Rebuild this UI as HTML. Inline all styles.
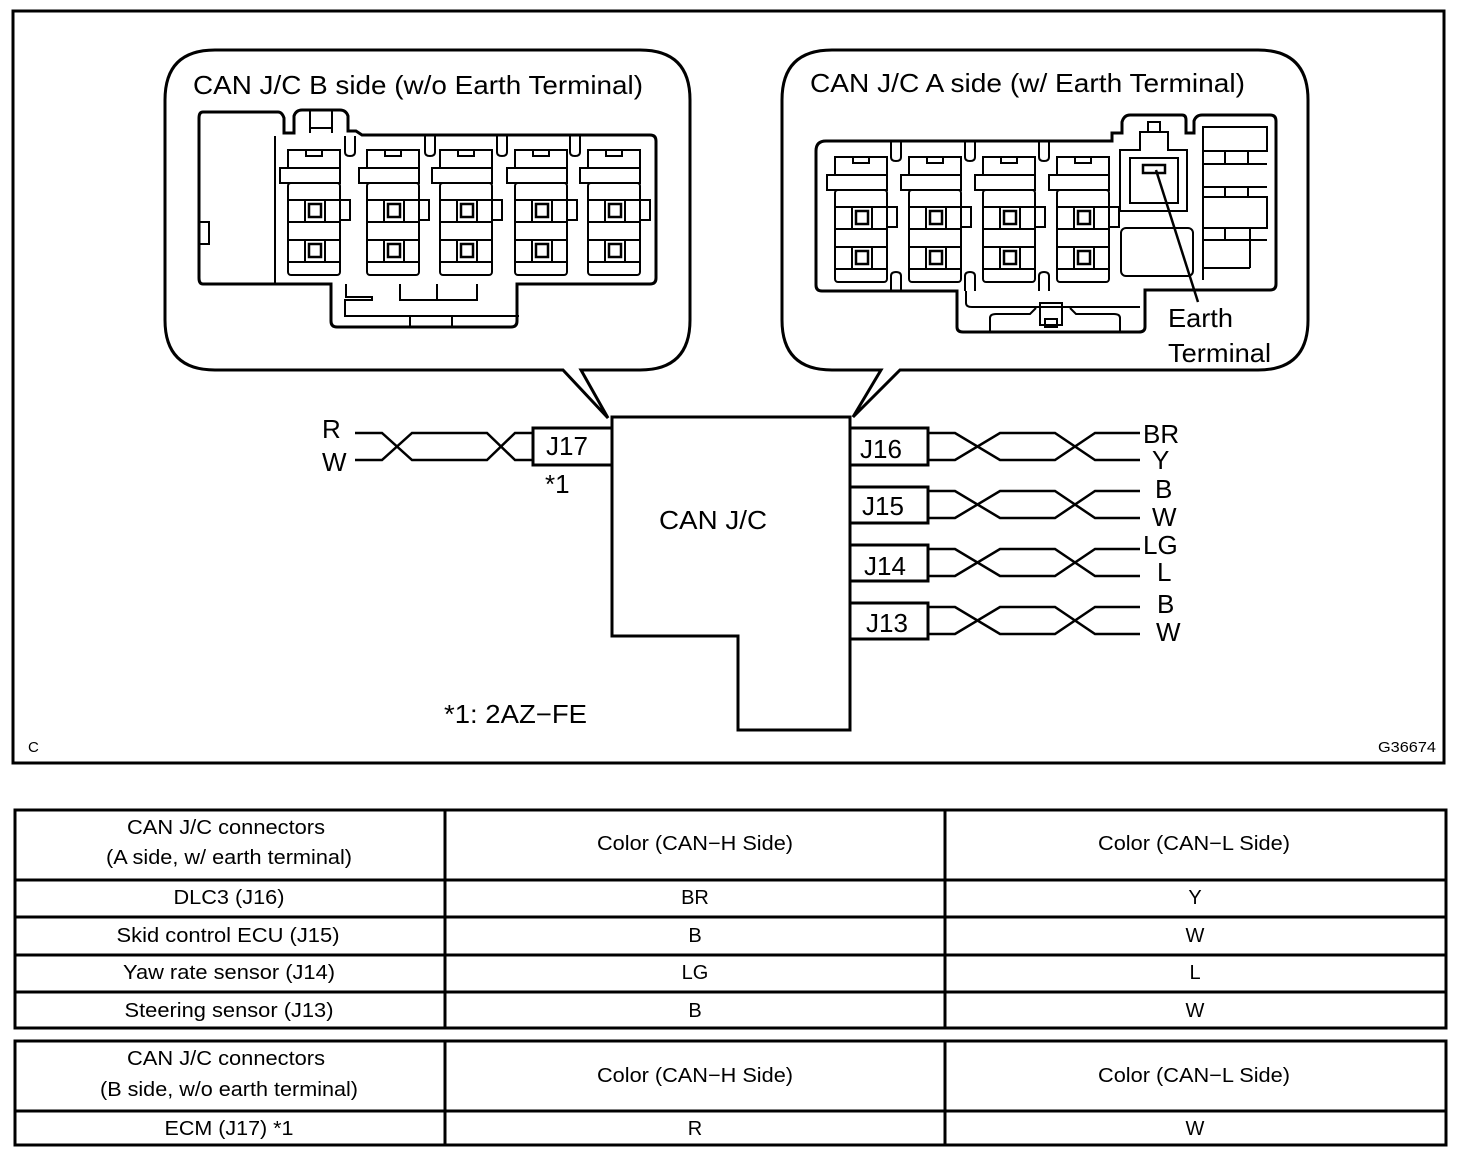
<!DOCTYPE html>
<html><head><meta charset="utf-8"><style>
html,body{margin:0;padding:0;background:#fff}
svg{display:block}
text{font-family:"Liberation Sans",Arial,sans-serif;fill:#000}
</style></head><body>
<svg width="1472" height="1166" viewBox="0 0 1472 1166" xmlns="http://www.w3.org/2000/svg">
<defs>
<g id="slot" fill="none" stroke="#000" stroke-width="2">
  <path d="M0,0 H52 V18 H0 Z"/>
  <rect x="18" y="0" width="16" height="6"/>
  <path d="M-8,18 H52 V33 H-8 Z"/>
  <rect x="0" y="33" width="52" height="92" rx="3"/>
  <line x1="0" y1="50" x2="52" y2="50"/>
  <line x1="0" y1="72" x2="52" y2="72"/>
  <line x1="0" y1="90" x2="52" y2="90"/>
  <line x1="0" y1="112" x2="52" y2="112"/>
  <line x1="17" y1="50" x2="17" y2="72"/><line x1="37" y1="50" x2="37" y2="72"/>
  <line x1="17" y1="90" x2="17" y2="112"/><line x1="37" y1="90" x2="37" y2="112"/>
  <rect x="21" y="54" width="12" height="13" stroke-width="2.5"/>
  <rect x="21" y="94" width="12" height="13" stroke-width="2.5"/>
  <path d="M52,50 H62 V70 H52"/>
</g>
</defs>
<rect x="13" y="11" width="1431" height="752" fill="none" stroke="#000" stroke-width="3"/>

<!-- Callout B -->
<path d="M215,50 H640 Q690,50 690,100 V320 Q690,370 640,370 H581 L608,418 L563,370 H215 Q165,370 165,320 V100 Q165,50 215,50 Z" fill="none" stroke="#000" stroke-width="3"/>
<text x="193" y="94" font-size="26" textLength="450" lengthAdjust="spacingAndGlyphs">CAN J/C B side (w/o Earth Terminal)</text>
<!-- B connector -->
<g fill="none" stroke="#000" stroke-width="3">
  <path d="M203,112 H278 Q282,112 284,118 V133 H294 V116 Q296,110 302,110 H340 Q346,110 348,116 V131 H356 L362,135 H650 Q656,135 656,141 V278 Q656,284 650,284 H517 V321 Q517,327 511,327 H337 Q331,327 331,321 V284 H203 Q199,284 199,278 V118 Q199,112 203,112 Z"/>
</g>
<g fill="none" stroke="#000" stroke-width="2">
  <line x1="275" y1="136" x2="275" y2="284"/>
  <line x1="310" y1="110" x2="310" y2="133"/><line x1="332" y1="110" x2="332" y2="133"/><line x1="310" y1="128" x2="332" y2="128"/>
  <rect x="199" y="222" width="10" height="22"/>
  <path d="M346,284 V297 H372 V300 H345 V316 H519"/>
  <path d="M400,284 V300 H437 V284"/><path d="M437,300 H477 V284"/>
  <line x1="410" y1="316" x2="410" y2="327"/><line x1="452" y1="316" x2="452" y2="327"/>
  <path d="M345,136 V152 Q345,156 350,156 Q355,156 355,152 V136"/>
  <path d="M425,136 V152 Q425,156 430,156 Q435,156 435,152 V136"/>
  <path d="M497,136 V152 Q497,156 502,156 Q507,156 507,152 V136"/>
  <path d="M570,136 V152 Q570,156 575,156 Q580,156 580,152 V136"/>
</g>
<use href="#slot" x="288" y="150"/>
<use href="#slot" x="367" y="150"/>
<use href="#slot" x="440" y="150"/>
<use href="#slot" x="515" y="150"/>
<use href="#slot" x="588" y="150"/>

<!-- Callout A -->
<path d="M832,50 H1258 Q1308,50 1308,100 V320 Q1308,370 1258,370 H900 L853,417 L881,370 H832 Q782,370 782,320 V100 Q782,50 832,50 Z" fill="none" stroke="#000" stroke-width="3"/>
<text x="810" y="92" font-size="26" textLength="435" lengthAdjust="spacingAndGlyphs">CAN J/C A side (w/ Earth Terminal)</text>
<g fill="none" stroke="#000" stroke-width="3">
  <path d="M826,141 H1112 V133 H1122 V122 Q1124,115 1130,115 H1182 Q1186,115 1186,120 V133 H1194 V121 Q1196,115 1202,115 H1270 Q1276,115 1276,121 V284 Q1276,290 1270,290 H1145 V327 Q1145,332 1139,332 H963 Q957,332 957,327 V291 H822 Q816,291 816,285 V151 Q816,141 826,141 Z"/>
</g>
<g fill="none" stroke="#000" stroke-width="2">
  <path d="M1120,211 V150 H1140 V132 H1168 V150 H1187 V211 Z"/>
  <rect x="1130" y="158" width="48" height="45"/>
  <rect x="1143" y="165" width="22" height="8" stroke-width="2.5"/>
  <rect x="1148" y="122" width="12" height="10"/>
  <rect x="1121" y="228" width="72" height="48" rx="5"/>
  <rect x="1203" y="127" width="64" height="24"/>
  <path d="M1203,151 V280 M1203,164 H1267 M1203,187 H1267 M1203,197 H1267 V228 H1250 V240 H1267 M1203,228 H1250 M1203,240 H1250 V268 M1203,268 H1250"/>
  <path d="M1225,151 V164 M1248,151 V164 M1225,187 V197 M1248,187 V197 M1225,228 V240"/>
  <path d="M966,291 V303 Q966,307 972,307 H1140"/>
  <path d="M990,332 V318 Q990,314 996,314 H1030 L1036,308 M1120,332 V318 Q1120,314 1114,314 H1076 L1070,308"/>
  <rect x="1040" y="303" width="22" height="22"/>
  <rect x="1045" y="319" width="12" height="8"/>
  <path d="M891,141 V157 Q891,161 896,161 Q901,161 901,157 V141"/>
  <path d="M965,141 V157 Q965,161 970,161 Q975,161 975,157 V141"/>
  <path d="M1039,141 V157 Q1039,161 1044,161 Q1049,161 1049,157 V141"/>
  <path d="M891,291 V276 Q891,272 896,272 Q901,272 901,276 V291"/>
  <path d="M965,291 V276 Q965,272 970,272 Q975,272 975,276 V291"/>
  <path d="M1039,291 V276 Q1039,272 1044,272 Q1049,272 1049,276 V291"/>
</g>
<use href="#slot" x="835" y="157"/>
<use href="#slot" x="909" y="157"/>
<use href="#slot" x="983" y="157"/>
<use href="#slot" x="1057" y="157"/>
<line x1="1156" y1="170" x2="1198" y2="302" stroke="#000" stroke-width="2.5"/>
<text x="1168" y="327" font-size="26" textLength="65" lengthAdjust="spacingAndGlyphs">Earth</text>
<text x="1168" y="362" font-size="26" textLength="103" lengthAdjust="spacingAndGlyphs">Terminal</text>

<!-- Main block -->
<path d="M612,417 H850 V730 H738 V636 H612 Z" fill="none" stroke="#000" stroke-width="3"/>
<text x="659" y="529" font-size="26" textLength="108" lengthAdjust="spacingAndGlyphs">CAN J/C</text>

<g fill="none" stroke="#000" stroke-width="3">
  <rect x="533" y="428" width="79" height="37"/>
  <rect x="850" y="428" width="78" height="37"/>
  <rect x="850" y="487" width="78" height="36"/>
  <rect x="850" y="545" width="78" height="36"/>
  <rect x="850" y="603" width="78" height="36"/>
</g>
<g fill="none" stroke="#000" stroke-width="2.5">
  <path d="M355,433 H382 L412,460 H487 L515,433 H533"/>
  <path d="M355,460 H382 L412,433 H487 L515,460 H533"/>
  <path d="M928,433 H955 L1000,460 H1055 L1095,433 H1140"/>
  <path d="M928,460 H955 L1000,433 H1055 L1095,460 H1140"/>
  <path d="M928,491 H955 L1000,518 H1055 L1095,491 H1140"/>
  <path d="M928,518 H955 L1000,491 H1055 L1095,518 H1140"/>
  <path d="M928,549 H955 L1000,576 H1055 L1095,549 H1140"/>
  <path d="M928,576 H955 L1000,549 H1055 L1095,576 H1140"/>
  <path d="M928,607 H955 L1000,634 H1055 L1095,607 H1140"/>
  <path d="M928,634 H955 L1000,607 H1055 L1095,634 H1140"/>
</g>
<g font-size="26">
  <text x="322" y="438">R</text>
  <text x="322" y="471">W</text>
  <text x="546" y="455">J17</text>
  <text x="545" y="493">*1</text>
  <text x="860" y="458">J16</text>
  <text x="862" y="515">J15</text>
  <text x="864" y="575">J14</text>
  <text x="866" y="632">J13</text>
  <text x="1143" y="443">BR</text>
  <text x="1152" y="469">Y</text>
  <text x="1155" y="498">B</text>
  <text x="1152" y="526">W</text>
  <text x="1143" y="554">LG</text>
  <text x="1157" y="581">L</text>
  <text x="1157" y="613">B</text>
  <text x="1156" y="641">W</text>
  <text x="444" y="723" textLength="143" lengthAdjust="spacingAndGlyphs">*1: 2AZ−FE</text>
</g>
<text x="28" y="752" font-size="15">C</text>
<text x="1378" y="752" font-size="15" textLength="58" lengthAdjust="spacingAndGlyphs">G36674</text>

<!-- Table 1 -->
<g fill="none" stroke="#000" stroke-width="3">
  <rect x="15" y="810" width="1431" height="218"/>
  <line x1="15" y1="880" x2="1446" y2="880"/>
  <line x1="15" y1="917" x2="1446" y2="917"/>
  <line x1="15" y1="955" x2="1446" y2="955"/>
  <line x1="15" y1="992" x2="1446" y2="992"/>
  <line x1="445" y1="810" x2="445" y2="1028"/>
  <line x1="945" y1="810" x2="945" y2="1028"/>
  <rect x="15" y="1041" width="1431" height="104"/>
  <line x1="15" y1="1111" x2="1446" y2="1111"/>
  <line x1="445" y1="1041" x2="445" y2="1145"/>
  <line x1="945" y1="1041" x2="945" y2="1145"/>
</g>
<g font-size="20" text-anchor="middle">
  <text x="226" y="834" textLength="198" lengthAdjust="spacingAndGlyphs">CAN J/C connectors</text>
  <text x="229" y="864" textLength="246" lengthAdjust="spacingAndGlyphs">(A side, w/ earth terminal)</text>
  <text x="695" y="850" textLength="196" lengthAdjust="spacingAndGlyphs">Color (CAN−H Side)</text>
  <text x="1194" y="850" textLength="192" lengthAdjust="spacingAndGlyphs">Color (CAN−L Side)</text>
  <text x="229" y="904" textLength="111" lengthAdjust="spacingAndGlyphs">DLC3 (J16)</text><text x="695" y="904">BR</text><text x="1195" y="904">Y</text>
  <text x="228" y="942" textLength="223" lengthAdjust="spacingAndGlyphs">Skid control ECU (J15)</text><text x="695" y="942">B</text><text x="1195" y="942">W</text>
  <text x="229" y="979" textLength="212" lengthAdjust="spacingAndGlyphs">Yaw rate sensor (J14)</text><text x="695" y="979">LG</text><text x="1195" y="979">L</text>
  <text x="229" y="1017" textLength="209" lengthAdjust="spacingAndGlyphs">Steering sensor (J13)</text><text x="695" y="1017">B</text><text x="1195" y="1017">W</text>
  <text x="226" y="1065" textLength="198" lengthAdjust="spacingAndGlyphs">CAN J/C connectors</text>
  <text x="229" y="1096" textLength="258" lengthAdjust="spacingAndGlyphs">(B side, w/o earth terminal)</text>
  <text x="695" y="1082" textLength="196" lengthAdjust="spacingAndGlyphs">Color (CAN−H Side)</text>
  <text x="1194" y="1082" textLength="192" lengthAdjust="spacingAndGlyphs">Color (CAN−L Side)</text>
  <text x="229" y="1135" textLength="129" lengthAdjust="spacingAndGlyphs">ECM (J17) *1</text><text x="695" y="1135">R</text><text x="1195" y="1135">W</text>
</g>
</svg>
</body></html>
